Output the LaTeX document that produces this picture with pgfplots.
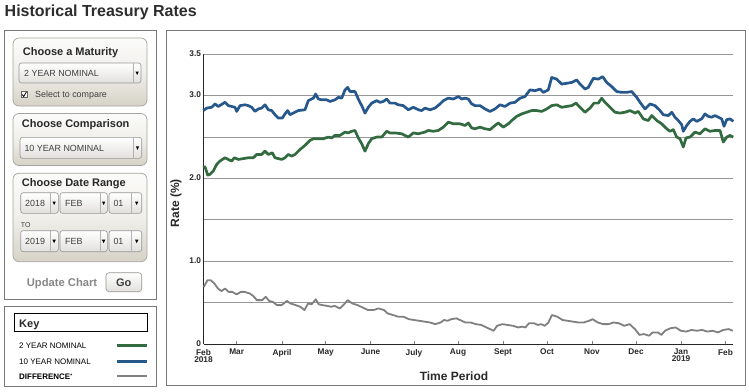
\documentclass[border=0pt]{standalone}
\usepackage{pgfplots}
\pgfplotsset{compat=1.18}
\usepackage{fontspec}
\setmainfont{Liberation Sans}
\definecolor{tgreen}{RGB}{51,107,64}
\definecolor{tblue}{RGB}{38,88,140}
\definecolor{tgray}{RGB}{128,128,128}
\definecolor{gridc}{RGB}{150,150,150}
\definecolor{frame}{RGB}{120,120,120}
\definecolor{beigeb}{RGB}{214,210,198}
\definecolor{boxb}{RGB}{165,165,160}
\definecolor{txt}{RGB}{40,40,40}
\newcommand{\fs}[1]{\fontsize{#1}{#1}\selectfont}
\tikzset{
  bbox/.style={rounded corners=6pt, draw=boxb, line width=0.7pt, top color={rgb,255:red,251;green,251;blue,249}, bottom color=beigeb, middle color={rgb,255:red,240;green,239;blue,234}},
  ddbox/.style={rounded corners=2.5pt, draw={rgb,255:red,150;green,150;blue,150}, line width=0.6pt, top color=white, bottom color={rgb,255:red,225;green,224;blue,220}},
  lab/.style={anchor=base west, inner sep=0pt, text=txt},
}
\newcommand{\dd}[5]{%
  \pgfmathsetmacro\ddtx{(#5+#3)/2}\pgfmathsetmacro\ddty{-(#2+#4)/2}%
  \draw[ddbox] (#1pt,-#2pt) rectangle (#3pt,-#4pt);
  \draw[black!30, line width=0.6pt] (#5pt,-#2pt) -- (#5pt,-#4pt);
  \fill[black] (\ddtx pt-1.7pt,\ddty pt+1.5pt) -- (\ddtx pt+1.7pt,\ddty pt+1.5pt) -- (\ddtx pt,\ddty pt-2pt) -- cycle;
}
\begin{document}
\begin{tikzpicture}
\path[use as bounding box, fill=white] (0pt,0pt) rectangle (749pt,-391pt);
% title
\node[lab, text={rgb,255:red,45;green,45;blue,45}] at (4.5pt,-16.7pt) {\fs{16}\bfseries Historical Treasury Rates};
% left panel
\draw[frame, line width=0.8pt] (4pt,-30pt) rectangle (156pt,-299pt);
% maturity box
\draw[bbox] (13pt,-38pt) rectangle (147pt,-106pt);
\node[lab] at (22.7pt,-55pt) {\fs{11}\bfseries Choose a Maturity};
\dd{19}{63}{141}{83}{133.3}
\node[lab, text=black!75] at (24pt,-76pt) {\fs{8.9}2 YEAR NOMINAL};
\draw[black!60, line width=0.5pt, fill=white] (21pt,-91.5pt) rectangle (27pt,-97.5pt);
\draw[black, line width=0.8pt] (22pt,-94.5pt) -- (23.7pt,-96.5pt) -- (26.5pt,-91.8pt);
\node[lab, text=black!75] at (35pt,-97.3pt) {\fs{8.9}Select to compare};
% comparison box
\draw[bbox] (13pt,-113.5pt) rectangle (147pt,-165.5pt);
\node[lab] at (21.7pt,-127.3pt) {\fs{11}\bfseries Choose Comparison};
\dd{20}{137.3}{141.7}{158.3}{133.3}
\node[lab, text=black!75] at (24.3pt,-151pt) {\fs{8.9}10 YEAR NOMINAL};
% date range box
\draw[bbox] (13pt,-173.3pt) rectangle (147pt,-261.7pt);
\node[lab] at (21.7pt,-186.5pt) {\fs{11}\bfseries Choose Date Range};
\dd{20.7}{192.7}{58.3}{213.3}{50}
\dd{60}{192.7}{107.3}{213.3}{100}
\dd{109}{192.7}{141.7}{213.3}{131.7}
\node[lab, text=black!75] at (25pt,-206.3pt) {\fs{8.9}2018};
\node[lab, text=black!75] at (65pt,-206.3pt) {\fs{8.9}FEB};
\node[lab, text=black!75] at (113.3pt,-206.3pt) {\fs{8.9}01};
\node[lab, text=black!75] at (20.7pt,-227pt) {\fs{7}TO};
\dd{20.7}{230.7}{58.3}{251.7}{50}
\dd{60}{230.7}{107.3}{251.7}{100}
\dd{109}{230.7}{141.7}{251.7}{131.7}
\node[lab, text=black!75] at (25pt,-244.3pt) {\fs{8.9}2019};
\node[lab, text=black!75] at (65pt,-244.3pt) {\fs{8.9}FEB};
\node[lab, text=black!75] at (113.3pt,-244.3pt) {\fs{8.9}01};
% update chart
\node[lab, text={rgb,255:red,135;green,135;blue,135}] at (26.7pt,-286pt) {\fs{11.2}\bfseries Update Chart};
\draw[ddbox, rounded corners=3pt] (106pt,-272.7pt) rectangle (141.7pt,-291.7pt);
\node[anchor=base, inner sep=0pt, text=black!75] at (123.8pt,-286pt) {\fs{11}\bfseries Go};
% key box
\draw[frame, line width=0.8pt] (4pt,-306pt) rectangle (156pt,-386pt);
\draw[black, line width=0.9pt] (14pt,-313pt) rectangle (147.7pt,-331.7pt);
\node[lab] at (19pt,-327pt) {\fs{11}\bfseries Key};
\node[lab, text=black] at (19pt,-348.5pt) {\fs{8}2 YEAR NOMINAL};
\node[lab, text=black] at (19pt,-364pt) {\fs{8}10 YEAR NOMINAL};
\node[lab, text=black] at (19pt,-379.3pt) {\fs{8}\bfseries DIFFERENCE\raisebox{2pt}{\fs{5}*}};
\draw[tgreen, line width=3pt] (117pt,-345.5pt) -- (147pt,-345.5pt);
\draw[tblue, line width=3pt] (117pt,-361pt) -- (147pt,-361pt);
\draw[tgray, line width=2pt] (117pt,-376pt) -- (147pt,-376pt);
% chart frame
\draw[frame, line width=0.8pt] (166pt,-30pt) rectangle (745pt,-385.7pt);
\node[rotate=90, inner sep=0pt, text=txt] at (176pt,-203pt) {\fs{12}\bfseries Rate (\%)};
\node[inner sep=0pt, text=txt] at (454pt,-376pt) {\fs{12}\bfseries Time Period};
\begin{axis}[
  at={(203.5pt,-344pt)}, anchor=south west,
  scale only axis, width=529.5pt, height=289.7pt,
  xmin=203.5, xmax=733, ymin=0, ymax=3.5,
  axis lines*=left,
  axis line style={black!85, line width=0.9pt},
  ymajorgrids, grid style={gridc, line width=0.7pt},
  ytick={0,0.5,1,1.5,2,2.5,3,3.5},
  yticklabels={0,,1.0,,2.0,,3.0,3.5},
  ytick style={draw=none},
  xtick={203.5,236.7,282,325.7,370.5,414,458,503,547,592,636,681,725.5},
  xticklabels={{Feb\\2018},Mar,April,May,June,July,Aug,Sept,Oct,Nov,Dec,{Jan\\2019},Feb},
  xtick style={draw=gray, line width=0.5pt},
  major tick length=3pt,
  /pgf/number format/assume math mode=true,
  ticklabel style={font=\fs{8.3}\bfseries, text=txt},
  xticklabel style={align=center, font=\fs{8.3}\bfseries\linespread{0.85}\selectfont, yshift=-1.5pt},
  yticklabel style={xshift=1pt, yshift=0.8pt},
  clip=false,
]
% 10 year (blue)
\addplot[tblue, line width=2.7pt, line join=round] coordinates {
(203.3,2.82) (206.7,2.85) (211.7,2.86) (215,2.90) (218.3,2.87) (225,2.92) (228.3,2.88) (231.7,2.87) (235,2.86) (236.7,2.81) (240,2.88) (245,2.89) (248.3,2.88) (251.7,2.86) (255,2.81) (258.3,2.84) (261.7,2.85) (265,2.89) (268.3,2.83) (271.7,2.82) (275,2.77) (278.3,2.73) (282.3,2.73) (285,2.78) (287.7,2.82) (290,2.77) (293.3,2.79) (298.3,2.82) (305,2.83) (308.3,2.94) (313.3,2.97) (315.7,3.02) (318.3,2.96) (321.7,2.95) (326.7,2.95) (330,2.93) (335,2.95) (338.3,2.98) (341.7,2.97) (345,3.07) (347.7,3.10) (350,3.05) (355,3.05) (358.3,2.96) (361.7,2.88) (365,2.79) (368.3,2.86) (371.7,2.91) (376.7,2.94) (380,2.92) (383.3,2.93) (386.7,2.96) (390,2.91) (395,2.91) (398.3,2.89) (403.3,2.88) (408.3,2.83) (413.3,2.86) (418.3,2.83) (421.7,2.82) (425,2.85) (430,2.83) (435,2.85) (440,2.90) (443.3,2.94) (448.3,2.97) (453.3,2.96) (458.3,2.99) (461.7,2.96) (465,2.97) (468.3,2.96) (471.7,2.90)
(475,2.88) (480,2.88) (485,2.84) (490,2.81) (495,2.84) (500,2.89) (505,2.87) (510,2.91) (515,2.92) (520,2.97) (525,2.99) (530,3.07) (535,3.06) (540,3.08) (543.3,3.04) (548.3,3.07) (551.7,3.22) (556.7,3.20) (561.7,3.14) (566.7,3.15) (571.7,3.16) (576.7,3.19) (580,3.14) (585,3.08) (588.3,3.10) (593.3,3.21) (598.3,3.20) (602.7,3.23) (606.7,3.16) (611.7,3.11) (616.7,3.05) (621.7,3.04) (626.7,3.04) (631.7,3.05) (636.7,2.98) (640,2.92) (645,2.84) (650,2.90) (655,2.88) (660,2.82) (663.3,2.77) (668.3,2.76) (671.7,2.80) (675,2.74) (678.3,2.70) (681.7,2.65) (683.3,2.57) (686.7,2.64) (690,2.69) (693.3,2.72) (696.7,2.69) (701.7,2.72) (705,2.78) (708.3,2.75) (711.7,2.74) (715,2.76) (718.3,2.74) (721.7,2.72) (724,2.63) (726.7,2.71) (730,2.72) (733.3,2.69)
};
% 2 year (green)
\addplot[tgreen, line width=2.7pt, line join=round] coordinates {
(203.3,2.13) (205,2.14) (207.7,2.04) (210,2.05) (213.3,2.09) (216.7,2.17) (220,2.21) (225,2.25) (228.3,2.23) (231.7,2.21) (234.3,2.25) (238.3,2.23) (243.3,2.24) (248.3,2.25) (253.3,2.25) (256.7,2.29) (261.7,2.29) (265,2.33) (268.3,2.29) (272.3,2.31) (275,2.25) (281.7,2.23) (285,2.25) (288.3,2.29) (291.7,2.27) (295,2.29) (300,2.35) (305,2.40) (310,2.46) (313.3,2.48) (318.3,2.48) (323.3,2.48) (328.3,2.50) (331.7,2.49) (335,2.52) (340,2.52) (345,2.56) (348.3,2.55) (351.7,2.57) (355,2.58) (358.3,2.49) (361.7,2.42) (365,2.33) (368.3,2.42) (371.7,2.48) (376.7,2.50) (381.7,2.50) (386.7,2.57) (390,2.55) (395,2.55) (401.7,2.54) (408.3,2.50) (413.3,2.55) (418.3,2.54) (425,2.56) (428.3,2.58) (433.3,2.57) (438.3,2.58) (443.3,2.62) (448.3,2.68) (453.3,2.66) (460,2.66) (465,2.64) (468.3,2.67) (471.7,2.61)
(475,2.60) (480,2.62) (485,2.60) (490,2.59) (495,2.64) (498.3,2.67) (503.3,2.62) (508.3,2.66) (511.7,2.70) (516.7,2.75) (521.7,2.78) (526.7,2.80) (531.7,2.82) (536.7,2.82) (541.7,2.81) (546.7,2.84) (551.7,2.88) (556.7,2.89) (561.7,2.86) (566.7,2.87) (571.7,2.88) (576,2.91) (580,2.86) (585,2.80) (590,2.85) (594,2.91) (598.3,2.91) (601.7,2.97) (605,2.92) (610,2.86) (615,2.80) (620,2.79) (625,2.80) (630,2.82) (635,2.79) (638.3,2.81) (643.3,2.72) (648.3,2.70) (651.7,2.76) (656.7,2.70) (661.7,2.66) (666.7,2.60) (670,2.57) (673.3,2.59) (676.7,2.50) (680,2.48) (683.3,2.38) (686,2.49) (690,2.50) (695,2.56) (700,2.54) (705,2.60) (710,2.57) (715,2.58) (720,2.58) (723.3,2.44) (726.7,2.50) (730,2.52) (733.3,2.50)
};
% difference (gray)
\addplot[tgray, line width=1.8pt, line join=round] coordinates {
(203.8,0.69) (207.4,0.77) (210.9,0.77) (214.4,0.73) (218,0.67) (221.5,0.64) (225,0.67) (228.6,0.63) (232.1,0.63) (236.7,0.60) (240.9,0.63) (244.5,0.63) (249.8,0.61) (253.3,0.58) (256.8,0.53) (262.1,0.53) (265.7,0.57) (269.2,0.52) (272.7,0.51) (277,0.47) (281.6,0.47) (286.9,0.52) (290.4,0.49) (295.7,0.47) (300.3,0.45) (304.5,0.41) (308.1,0.49) (311.6,0.48) (315.8,0.54) (318.7,0.48) (322.2,0.47) (327.5,0.46) (331,0.45) (334.6,0.46) (339.9,0.43) (343.4,0.47) (347.7,0.53) (352.2,0.49) (357.5,0.47) (362.8,0.44) (368.1,0.41) (373.4,0.41) (378.7,0.43) (384,0.41) (387.6,0.37) (392.9,0.35) (398.2,0.33) (403.5,0.33) (408.8,0.30) (414.1,0.29) (419.4,0.28) (424.7,0.27) (430,0.26) (435.3,0.24) (440.6,0.26) (444.1,0.29) (447.7,0.28) (451.2,0.30) (456.5,0.31) (460,0.29) (465.3,0.26) (470.6,0.26) (475.9,0.24) (481.2,0.23) (486.5,0.20) (490,0.18) (493.6,0.16) (497.1,0.22) (502.4,0.24) (507.7,0.23) (513,0.22) (518.3,0.20) (521.9,0.21) (525.4,0.20) (528.9,0.25) (534.2,0.25) (537.8,0.23) (541.3,0.24) (544.8,0.22) (548.4,0.26) (551.9,0.35) (557.2,0.33) (562.5,0.29) (567.8,0.28) (573.1,0.27) (578.4,0.26) (583.7,0.26) (589,0.28) (592.5,0.30) (597.8,0.26) (603.1,0.24) (608.4,0.24) (613.7,0.26) (619,0.25) (624.3,0.22) (629.6,0.24) (634.9,0.18) (639.5,0.11) (643.8,0.12) (649.1,0.10) (652.6,0.14) (657.9,0.14) (661.4,0.11) (665,0.16) (670.3,0.19) (675.6,0.20) (680.9,0.16) (686.2,0.15) (691.5,0.17) (696.8,0.16) (702.1,0.17) (707.4,0.15) (712.7,0.16) (718,0.14) (723.3,0.17) (728.6,0.18) (732.8,0.16)
};
\end{axis}
\end{tikzpicture}
\end{document}
